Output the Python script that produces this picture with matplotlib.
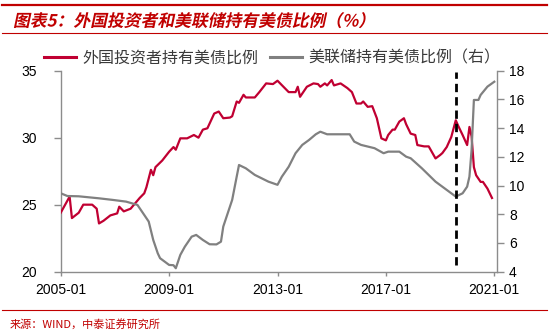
import matplotlib
matplotlib.use('Agg')
import matplotlib.pyplot as plt
import pandas as pd
from matplotlib.textpath import TextPath
from matplotlib.patches import PathPatch
from matplotlib.font_manager import FontProperties
from matplotlib.transforms import Affine2D
from matplotlib.lines import Line2D

plt.rcParams['font.family'] = ['Liberation Sans', 'Noto Sans CJK SC']

# foreign investors share of treasuries (left axis, %)
foreign_dates = ['2005-01', '2005-05', '2005-06', '2005-09', '2005-11', '2006-03', '2006-05', '2006-06',
                 '2006-08', '2006-11', '2007-02', '2007-03', '2007-05', '2007-08', '2007-10', '2007-12',
                 '2008-02', '2008-03', '2008-05', '2008-06', '2008-07', '2008-10', '2009-01', '2009-03',
                 '2009-04', '2009-06', '2009-09', '2009-12', '2010-02', '2010-04', '2010-06', '2010-09',
                 '2010-11', '2011-01', '2011-04', '2011-05', '2011-07', '2011-08', '2011-10', '2011-11',
                 '2012-03', '2012-05', '2012-08', '2012-11', '2013-01', '2013-06', '2013-09', '2013-10',
                 '2013-11', '2014-02', '2014-05', '2014-07', '2014-08', '2014-10', '2014-11', '2015-01',
                 '2015-02', '2015-05', '2015-08', '2015-10', '2015-12', '2016-02', '2016-03', '2016-05',
                 '2016-07', '2016-09', '2016-11', '2017-01', '2017-02', '2017-04', '2017-05', '2017-07',
                 '2017-09', '2017-10', '2017-12', '2018-02', '2018-03', '2018-06', '2018-08', '2018-11',
                 '2019-01', '2019-02', '2019-04', '2019-06', '2019-08', '2019-09', '2019-11', '2020-01',
                 '2020-02', '2020-03', '2020-04', '2020-05', '2020-07', '2020-08', '2020-10', '2020-12']
foreign_vals = [24.4, 25.6, 24.0, 24.4, 25.0, 25.0, 24.7, 23.6,
                23.8, 24.2, 24.35, 24.85, 24.5, 24.7, 25.1, 25.5,
                25.85, 26.3, 27.6, 27.2, 27.8, 28.3, 28.95, 29.3,
                29.1, 29.95, 29.95, 30.2, 30.0, 30.6, 30.7, 31.8,
                31.95, 31.45, 31.5, 31.6, 32.7, 32.6, 33.2, 33.0,
                33.0, 33.4, 34.05, 34.0, 34.25, 33.4, 33.4, 33.8,
                33.05, 33.8, 34.05, 34.0, 33.8, 34.05, 33.9, 34.3,
                33.9, 34.05, 33.7, 33.4, 32.55, 32.55, 32.7, 32.3,
                32.35, 31.45, 29.95, 29.8, 30.2, 30.6, 30.6, 31.2,
                31.45, 31.0, 30.3, 30.2, 29.45, 29.35, 29.35, 28.45,
                28.7, 28.85, 29.3, 30.05, 31.3, 30.9, 30.2, 29.45,
                30.8, 30.1, 27.8, 27.2, 26.7, 26.7, 26.2, 25.5]

# Fed share of treasuries (right axis, %)
fed_dates = ['2005-01', '2005-04', '2005-09', '2006-06', '2006-12', '2007-06', '2007-11', '2008-02',
             '2008-04', '2008-06', '2008-08', '2008-09', '2009-01', '2009-03', '2009-04', '2009-06',
             '2009-08', '2009-11', '2010-01', '2010-04', '2010-07', '2010-10', '2010-12', '2011-01',
             '2011-05', '2011-07', '2011-08', '2011-11', '2012-03', '2012-09', '2013-01', '2013-03',
             '2013-06', '2013-09', '2013-12', '2014-03', '2014-06', '2014-08', '2014-11', '2015-09',
             '2015-11', '2016-02', '2016-08', '2016-12', '2017-02', '2017-07', '2017-10', '2017-12',
             '2018-05', '2018-11', '2019-05', '2019-08', '2019-11', '2020-01', '2020-02', '2020-03',
             '2020-04', '2020-06', '2020-07', '2020-10', '2021-01']
fed_vals = [9.46, 9.27, 9.25, 9.11, 9.0, 8.88, 8.65, 7.95,
            7.49, 6.21, 5.28, 4.94, 4.47, 4.45, 4.24, 5.17,
            5.74, 6.44, 6.56, 6.21, 5.91, 5.9, 6.09, 7.14,
            9.0, 10.62, 11.43, 11.2, 10.74, 10.27, 10.05, 10.62,
            11.31, 12.25, 12.83, 13.17, 13.57, 13.75, 13.57, 13.57,
            13.06, 12.83, 12.6, 12.25, 12.36, 12.36, 12.01, 11.9,
            11.2, 10.27, 9.58, 9.23, 9.46, 9.92, 10.62, 12.48,
            15.96, 15.96, 16.31, 16.89, 17.23]

marker_date = '2019-08'
xtick_labels = ['2005-01', '2009-01', '2013-01', '2017-01', '2021-01']
left_ticks = [20, 25, 30, 35]
right_ticks = [4, 6, 8, 10, 12, 14, 16, 18]

red = '#C00032'
grey = '#808080'
spine_c = '#8C8C8C'

fig = plt.figure(figsize=(5.49, 3.31), dpi=100)
ax = fig.add_axes([0.1106, 0.1792, 0.7938, 0.6073])
ax2 = ax.twinx()

ax.plot(pd.to_datetime(foreign_dates), foreign_vals, color=red, lw=1.6, zorder=3)
ax2.plot(pd.to_datetime(fed_dates), fed_vals, color=grey, lw=1.6, zorder=3)
ax2.axvline(pd.to_datetime(marker_date), ymin=0.033, ymax=0.995, color='black',
            lw=2, linestyle=(0, (3, 1.8)), zorder=5)

ax.set_xlim(pd.Timestamp('2005-01-01'), pd.Timestamp('2021-01-31'))
ax.set_ylim(20, 35)
ax2.set_ylim(4, 18)
ax.set_xticks(pd.to_datetime(xtick_labels))
ax.set_xticklabels(xtick_labels)
ax.set_yticks(left_ticks)
ax2.set_yticks(right_ticks)

for a in (ax, ax2):
    a.spines['top'].set_visible(False)
    for s in ('left', 'right', 'bottom'):
        a.spines[s].set_color(spine_c)
        a.spines[s].set_linewidth(1.0)
ax.spines['right'].set_visible(False)
ax2.spines['left'].set_visible(False)
ax2.spines['bottom'].set_visible(False)

ax.tick_params(axis='x', direction='out', length=3, width=1, color=spine_c, labelsize=10, pad=5)
ax.tick_params(axis='y', direction='out', length=5, width=1, color=spine_c, labelsize=10, pad=12)
ax2.tick_params(axis='y', direction='out', length=5, width=1, color=spine_c, labelsize=10, pad=4)

handles = [Line2D([], [], color=red, lw=2.2), Line2D([], [], color=grey, lw=2.2)]
ax.legend(handles, ['外国投资者持有美债比例', '美联储持有美债比例（右）'], ncol=2, frameon=False,
          loc='center', bbox_to_anchor=(0.485, 1.063), fontsize=11.5, handlelength=2.0,
          handletextpad=0.4, columnspacing=0.7, labelcolor='#3A3A3A', borderaxespad=0)

# header rules and italic title
fig.add_artist(Line2D([0.004, 0.996], [1 - 5 / 331, 1 - 5 / 331], transform=fig.transFigure,
                      color='#C00000', lw=1.6))
fig.add_artist(Line2D([0.004, 0.996], [1 - 32.7 / 331, 1 - 32.7 / 331], transform=fig.transFigure,
                      color='#C00000', lw=0.8))
fig.add_artist(Line2D([0.004, 0.996], [1 - 310 / 331, 1 - 310 / 331], transform=fig.transFigure,
                      color='#C00000', lw=0.8))

title = '图表5：外国投资者和美联储持有美债比例（%）'
tp = TextPath((0, 0), title, size=16.8, prop=FontProperties(family='Noto Sans CJK SC', weight='bold'))
fig.add_artist(PathPatch(tp, transform=Affine2D().skew_deg(12, 0).translate(13, 331 - 26.5),
                         facecolor='#C00000', edgecolor='none'))

fig.text(10 / 549, 1 - 324 / 331, '来源：WIND，中泰证券研究所', color='#C00000', fontsize=8,
         ha='left', va='center', family='Noto Sans CJK SC')

fig.savefig('out.png', dpi=100)
